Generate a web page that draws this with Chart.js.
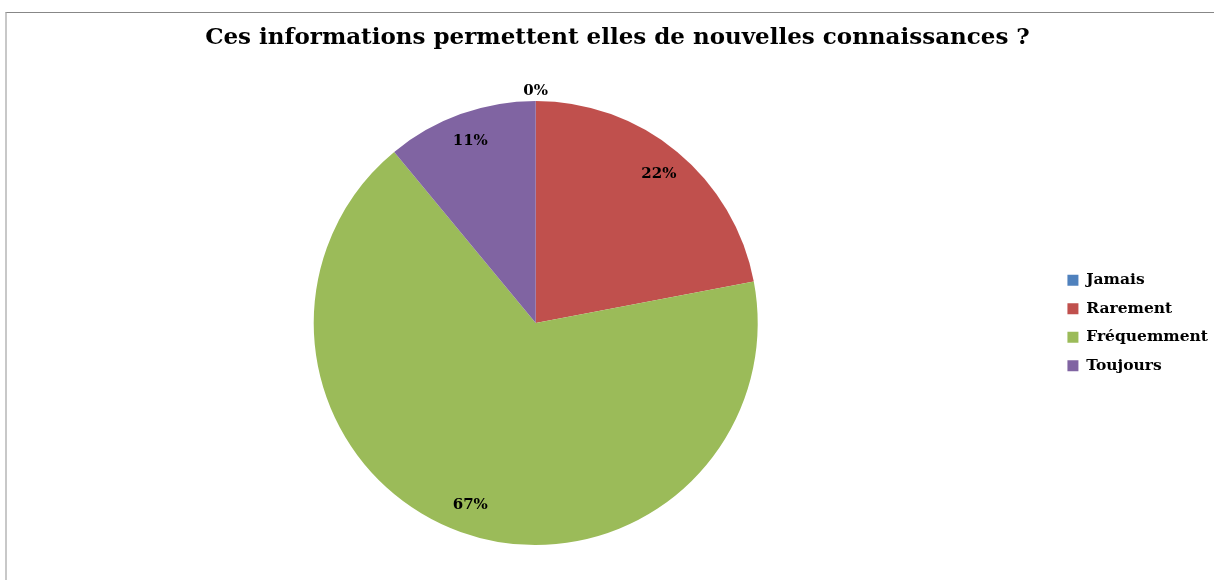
<!DOCTYPE html>
<html lang="fr">
<head>
<meta charset="utf-8">
<title>Ces informations permettent elles de nouvelles connaissances ?</title>
<script src="https://cdn.jsdelivr.net/npm/chart.js@4"></script>
<style>
    html, body { margin: 0; padding: 0; background: #fff; overflow: hidden; }
    .frame {
        position: absolute;
        left: 5px;
        top: 12px;
        border-left: 2px solid #c8c8c8;
        border-top: 1px solid #878787;
        width: 1220px;
        height: 580px;
    }
    #chart { display: block; }
</style>
</head>
<body>
<div class="frame">
    <canvas id="chart" width="1211" height="567"></canvas>
</div>
<script>
    var categories = ['Jamais', 'Rarement', 'Fréquemment', 'Toujours'];
    var shares = [0, 22, 67, 11];
    var sliceColors = ['#4f81bd', '#c0504d', '#9bbb59', '#8064a2'];
    var titleText = 'Ces informations permettent elles de nouvelles connaissances ?';

    var fontFamily = "'DejaVu Serif', serif";

    // percentage labels, inside the slice or just above the edge when empty
    var sliceLabels = {
        id: 'sliceLabels',
        afterDatasetsDraw: function (chart) {
            var ctx = chart.ctx;
            var meta = chart.getDatasetMeta(0);
            var values = chart.data.datasets[0].data;
            var total = values.reduce(function (a, b) { return a + b; }, 0);

            ctx.save();
            ctx.font = 'bold 15px ' + fontFamily;
            ctx.fillStyle = '#000';
            ctx.textAlign = 'center';
            ctx.textBaseline = 'middle';

            meta.data.forEach(function (arc, i) {
                var p = arc.getProps(['x', 'y', 'startAngle', 'endAngle', 'outerRadius'], true);
                var mid = (p.startAngle + p.endAngle) / 2;
                var dist = values[i] === 0 ? p.outerRadius + 10 : p.outerRadius * 0.87;
                var text = Math.round(values[i] / total * 100) + '%';
                ctx.fillText(text, p.x + Math.cos(mid) * dist, p.y + Math.sin(mid) * dist);
            });
            ctx.restore();
        }
    };

    new Chart(document.getElementById('chart'), {
        type: 'pie',
        data: {
            labels: categories,
            datasets: [{
                data: shares,
                backgroundColor: sliceColors,
                borderWidth: 0
            }]
        },
        options: {
            responsive: false,
            animation: false,
            layout: { padding: { left: 10, right: 0, top: 0, bottom: 35 } },
            plugins: {
                title: {
                    display: true,
                    text: titleText,
                    color: '#000',
                    font: { family: fontFamily, size: 23, weight: 'bold' },
                    padding: { top: 11, bottom: 49.4 }
                },
                legend: {
                    position: 'right',
                    fullSize: false,
                    labels: {
                        color: '#000',
                        font: { family: fontFamily, size: 15.5, weight: 'bold' },
                        boxWidth: 11,
                        boxHeight: 11,
                        padding: 13
                    }
                },
                tooltip: { enabled: false }
            }
        },
        plugins: [sliceLabels]
    });
</script>
</body>
</html>
